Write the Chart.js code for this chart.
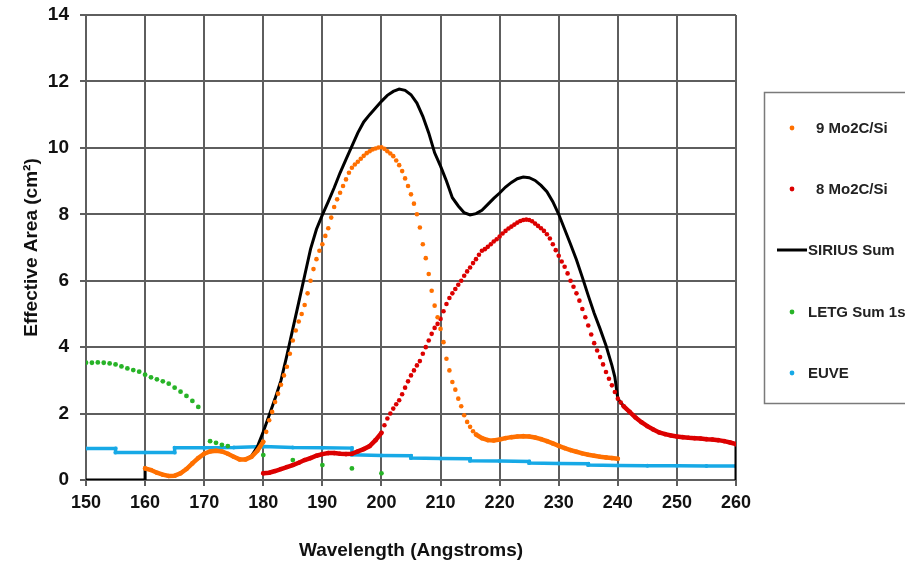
<!DOCTYPE html>
<html>
<head>
<meta charset="utf-8">
<script src="https://cdn.jsdelivr.net/npm/chart.js@4"></script>
<style>
  html, body { margin: 0; padding: 0; background: #fff; }
  #wrap { width: 905px; height: 566px; position: relative; }
</style>
</head>
<body>
<div id="wrap"><canvas id="chart"></canvas></div>
<script>
/* DATA: [wavelength (Å), effective area (cm²)] */
const mo9 = [
  [160,0.35],[161,0.3],[162,0.22],[163,0.16],[164,0.12],[165,0.13],[166,0.2],[167,0.33],[168,0.5],[169,0.66],
  [170,0.79],[171,0.86],[172,0.88],[173,0.86],[174,0.79],[175,0.7],[176,0.62],[177,0.62],[178,0.7],[179,0.88],
  [180,1.15],[180.5,1.45],[181,1.8],[181.5,2.05],[182,2.35],[182.5,2.6],[183,2.87],[183.5,3.15],[184,3.41],[184.5,3.8],
  [185,4.2],[185.5,4.5],[186,4.77],[186.5,5.0],[187,5.27],[187.5,5.62],[188,6.0],[188.5,6.35],[189,6.65],[189.5,6.9],
  [190,7.1],[190.5,7.35],[191,7.58],[191.5,7.9],[192,8.22],[192.5,8.45],[193,8.65],[193.5,8.85],[194,9.05],[194.5,9.25],
  [195,9.4],[195.5,9.5],[196,9.58],[196.5,9.67],[197,9.76],[197.5,9.84],[198,9.9],[198.5,9.95],[199,9.98],[199.5,10.01],
  [200,10.02],[200.5,9.97],[201,9.9],[201.5,9.83],[202,9.75],[202.5,9.62],[203,9.48],[203.5,9.3],[204,9.08],[204.5,8.85],
  [205,8.6],[205.5,8.32],[206,8.0],[206.5,7.6],[207,7.1],[207.5,6.68],[208,6.2],[208.5,5.7],[209,5.25],[209.5,4.9],
  [210,4.55],[210.5,4.15],[211,3.65],[211.5,3.3],[212,2.95],[212.5,2.72],[213,2.45],[213.5,2.22],[214,1.95],[214.5,1.75],
  [215,1.6],[215.5,1.47],[216,1.37],[217,1.26],[218,1.2],[219,1.19],[220,1.22],[221,1.26],[222,1.29],[223,1.31],
  [224,1.32],[225,1.31],[226,1.28],[227,1.23],[228,1.17],[229,1.1],[230,1.03],[231,0.96],[232,0.9],[233,0.85],
  [234,0.8],[235,0.76],[236,0.73],[237,0.7],[238,0.68],[239,0.66],[240,0.64]
];

const mo8 = [
  [180,0.2],[181,0.22],[182,0.27],[183,0.33],[184,0.39],[185,0.45],[186,0.52],[187,0.6],[188,0.66],[189,0.73],
  [190,0.78],[191,0.81],[192,0.81],[193,0.79],[194,0.78],[195,0.79],[196,0.86],[197,0.93],[198,1.02],[199,1.2],
  [200,1.42],[200.5,1.65],[201,1.85],[201.5,2.0],[202,2.15],[202.5,2.28],[203,2.4],[203.5,2.58],[204,2.78],[204.5,2.97],
  [205,3.15],[205.5,3.3],[206,3.45],[206.5,3.58],[207,3.8],[207.5,4.0],[208,4.2],[208.5,4.4],[209,4.58],[209.5,4.7],
  [210,4.85],[210.5,5.08],[211,5.3],[211.5,5.48],[212,5.62],[212.5,5.75],[213,5.88],[213.5,6.0],[214,6.15],[214.5,6.28],
  [215,6.4],[215.5,6.53],[216,6.65],[216.5,6.78],[217,6.9],[217.5,6.95],[218,7.02],[218.5,7.1],[219,7.18],[219.5,7.25],
  [220,7.33],[220.5,7.42],[221,7.5],[221.5,7.57],[222,7.63],[222.5,7.69],[223,7.75],[223.5,7.8],[224,7.83],[224.5,7.84],
  [225,7.83],[225.5,7.79],[226,7.72],[226.5,7.65],[227,7.58],[227.5,7.5],[228,7.4],[228.5,7.27],[229,7.1],[229.5,6.92],
  [230,6.75],[230.5,6.58],[231,6.42],[231.5,6.22],[232,6.0],[232.5,5.82],[233,5.62],[233.5,5.4],[234,5.15],[234.5,4.9],
  [235,4.65],[235.5,4.38],[236,4.12],[236.5,3.9],[237,3.7],[237.5,3.48],[238,3.25],[238.5,3.05],[239,2.85],[239.5,2.65],
  [240,2.45],[240.5,2.33],[241,2.22],[242,2.05],[243,1.88],[244,1.74],[245,1.62],[246,1.52],[247,1.43],[248,1.38],
  [249,1.34],[250,1.31],[251,1.29],[252,1.27],[253,1.26],[254,1.25],[255,1.23],[256,1.22],[257,1.2],[258,1.17],
  [259,1.13],[260,1.08]
];

const siriusSum = [
  [150,0],[160,0],[160,0.35],[161,0.3],[162,0.22],[163,0.16],[164,0.12],[165,0.13],[166,0.2],[167,0.33],[168,0.5],
  [169,0.66],[170,0.79],[171,0.86],[172,0.88],[173,0.86],[174,0.79],[175,0.7],[176,0.62],[177,0.62],[178,0.72],[179,1.0],
  [180,1.45],[181,1.95],[182,2.45],[183,3.0],[184,3.75],[185,4.55],[186,5.35],[187,6.15],[188,6.95],[189,7.55],
  [190,7.98],[191,8.38],[192,8.8],[193,9.25],[194,9.65],[195,10.05],[196,10.45],[197,10.78],[198,11.0],[199,11.2],
  [200,11.4],[201,11.58],[202,11.7],[203,11.77],[204,11.73],[205,11.6],[206,11.35],[207,10.95],[208,10.45],[209,9.85],
  [210,9.45],[211,9.0],[212,8.5],[213,8.25],[214,8.05],[215,7.98],[216,8.02],[217,8.12],[218,8.3],[219,8.48],
  [220,8.64],[221,8.82],[222,8.96],[223,9.07],[224,9.12],[225,9.1],[226,9.02],[227,8.87],[228,8.68],[229,8.38],
  [230,8.0],[231,7.55],[232,7.1],[233,6.63],[234,6.1],[235,5.55],[236,5.02],[237,4.55],[238,4.05],[239,3.45],
  [239.5,3.1],[240,2.45],[241,2.22],[242,2.05],[243,1.88],[244,1.74],[245,1.62],[246,1.52],[247,1.43],[248,1.38],
  [249,1.34],[250,1.31],[251,1.29],[252,1.27],[253,1.26],[254,1.25],[255,1.23],[256,1.22],[257,1.2],[258,1.17],
  [259,1.13],[260,1.08],[260,0]
];

const letg = [
  [150,3.53],[151,3.53],[152,3.54],[153,3.53],[154,3.51],[155,3.48],[156,3.42],[157,3.36],[158,3.31],[159,3.26],
  [160,3.17],[161,3.09],[162,3.03],[163,2.97],[164,2.9],[165,2.78],[166,2.66],[167,2.53],[168,2.38],[169,2.2],
  [171,1.17],[172,1.12],[173,1.06],[174,1.02],[180,0.75],[185,0.6],[190,0.45],[195,0.35],[200,0.2]
];

const euve = [
  [150,0.95],[155,0.95],[155,0.83],[160,0.83],[165,0.83],[165,0.97],[170,0.97],[175,0.98],[180,1.01],[185,0.98],
  [190,0.97],[195,0.96],[195,0.76],[200,0.74],[205,0.73],[205,0.66],[210,0.65],[215,0.64],[215,0.58],[220,0.57],
  [225,0.56],[225,0.51],[230,0.5],[235,0.49],[235,0.45],[240,0.44],[245,0.43],[250,0.43],[255,0.42],[260,0.42]
];

const xTicks = [150, 160, 170, 180, 190, 200, 210, 220, 230, 240, 250, 260];
const yTicks = [0, 2, 4, 6, 8, 10, 12, 14];

/* COLORS */
const orange = '#ff7000';
const red = '#dc0000';
const black = '#000000';
const green = '#27b327';
const blue = '#17a9e6';
const gridGray = '#5e5e5e';

const pts = (arr) => arr.map(([x, y]) => ({ x, y }));

/* dense, flat stretches of the dotted series read as a solid band */
const joinFlat = (color) => (c) => {
  const dx = c.p1.x - c.p0.x;
  const d = Math.hypot(dx, c.p1.y - c.p0.y);
  return dx > 4 && d < 11 ? color : 'transparent';
};

/* LEGEND BOX (drawn on the canvas) */
const legendBox = {
  id: 'legendBox',
  afterDraw(chart) {
    const ctx = chart.ctx;
    ctx.save();
    ctx.strokeStyle = '#7a7a7a';
    ctx.lineWidth = 1.5;
    ctx.strokeRect(764.5, 92.5, 160, 311);
    const rows = [
      { ds: 0, y: 128, tx: 816, line: false },
      { ds: 1, y: 189, tx: 816, line: false },
      { ds: 2, y: 250, tx: 808, line: true },
      { ds: 3, y: 312, tx: 808, line: false },
      { ds: 4, y: 373, tx: 808, line: false },
    ];
    ctx.font = 'bold 15px "Liberation Sans", Arial, sans-serif';
    ctx.textBaseline = 'middle';
    ctx.textAlign = 'left';
    rows.forEach((r) => {
      const ds = chart.data.datasets[r.ds];
      if (r.line) {
        ctx.strokeStyle = ds.borderColor;
        ctx.lineWidth = 3;
        ctx.beginPath();
        ctx.moveTo(777, r.y);
        ctx.lineTo(807, r.y);
        ctx.stroke();
      } else {
        ctx.fillStyle = ds.pointBackgroundColor;
        ctx.beginPath();
        ctx.arc(792, r.y, 2.4, 0, Math.PI * 2);
        ctx.fill();
      }
      ctx.fillStyle = '#222';
      ctx.fillText(ds.label, r.tx, r.y + 1);
    });
    ctx.restore();
  },
};

new Chart(document.getElementById('chart'), {
  type: 'scatter',
  data: {
    datasets: [
      {
        label: '9 Mo2C/Si',
        data: pts(mo9),
        showLine: true,
        borderColor: orange,
        borderWidth: 4.5,
        borderCapStyle: 'round',
        segment: { borderColor: joinFlat(orange) },
        pointRadius: 2.3,
        pointBorderWidth: 0,
        pointBackgroundColor: orange,
      },
      {
        label: '8 Mo2C/Si',
        data: pts(mo8),
        showLine: true,
        borderColor: red,
        borderWidth: 4.5,
        borderCapStyle: 'round',
        segment: { borderColor: joinFlat(red) },
        pointRadius: 2.3,
        pointBorderWidth: 0,
        pointBackgroundColor: red,
      },
      {
        label: 'SIRIUS Sum',
        data: pts(siriusSum),
        showLine: true,
        borderColor: black,
        borderWidth: 3,
        pointRadius: 0,
        tension: 0,
      },
      {
        label: 'LETG Sum 1s',
        data: pts(letg),
        showLine: false,
        pointRadius: 2.4,
        pointBorderWidth: 0,
        pointBackgroundColor: green,
        borderColor: green,
      },
      {
        label: 'EUVE',
        data: pts(euve),
        showLine: true,
        borderColor: blue,
        borderWidth: 3.5,
        pointRadius: 2,
        pointBorderWidth: 0,
        pointBackgroundColor: blue,
      },
    ],
  },
  options: {
    responsive: true,
    maintainAspectRatio: false,
    animation: false,
    layout: { padding: { top: 15, right: 169, left: 0, bottom: 0 } },
    plugins: {
      legend: { display: false },
      tooltip: { enabled: false },
    },
    scales: {
      x: {
        type: 'linear',
        min: 150,
        max: 260,
        afterBuildTicks: (axis) => { axis.ticks = xTicks.map((v) => ({ value: v })); },
        afterFit: (axis) => {
          axis.height = 86;
          axis.paddingLeft = 0;
          axis.paddingRight = 0;
        },
        grid: { color: gridGray, lineWidth: 2, tickLength: 6 },
        border: { color: gridGray, width: 2 },
        ticks: {
          color: '#111',
          padding: 6,
          font: { family: '"Liberation Sans", Arial, sans-serif', size: 18, weight: 'bold' },
        },
        title: {
          display: true,
          text: 'Wavelength (Angstroms)',
          color: '#111',
          padding: { top: 0, bottom: 4 },
          font: { family: '"Liberation Sans", Arial, sans-serif', size: 19, weight: 'bold' },
        },
      },
      y: {
        min: 0,
        max: 14,
        afterBuildTicks: (axis) => { axis.ticks = yTicks.map((v) => ({ value: v })); },
        afterFit: (axis) => {
          axis.width = 86;
          axis.paddingTop = 0;
          axis.paddingBottom = 0;
        },
        grid: { color: gridGray, lineWidth: 2, tickLength: 6 },
        border: { color: gridGray, width: 2 },
        ticks: {
          color: '#111',
          padding: 11,
          font: { family: '"Liberation Sans", Arial, sans-serif', size: 19, weight: 'bold' },
        },
        title: {
          display: true,
          text: 'Effective Area (cm²)',
          color: '#111',
          padding: { top: 20, bottom: 0 },
          font: { family: '"Liberation Sans", Arial, sans-serif', size: 19, weight: 'bold' },
        },
      },
    },
  },
  plugins: [legendBox],
});
</script>
</body>
</html>
